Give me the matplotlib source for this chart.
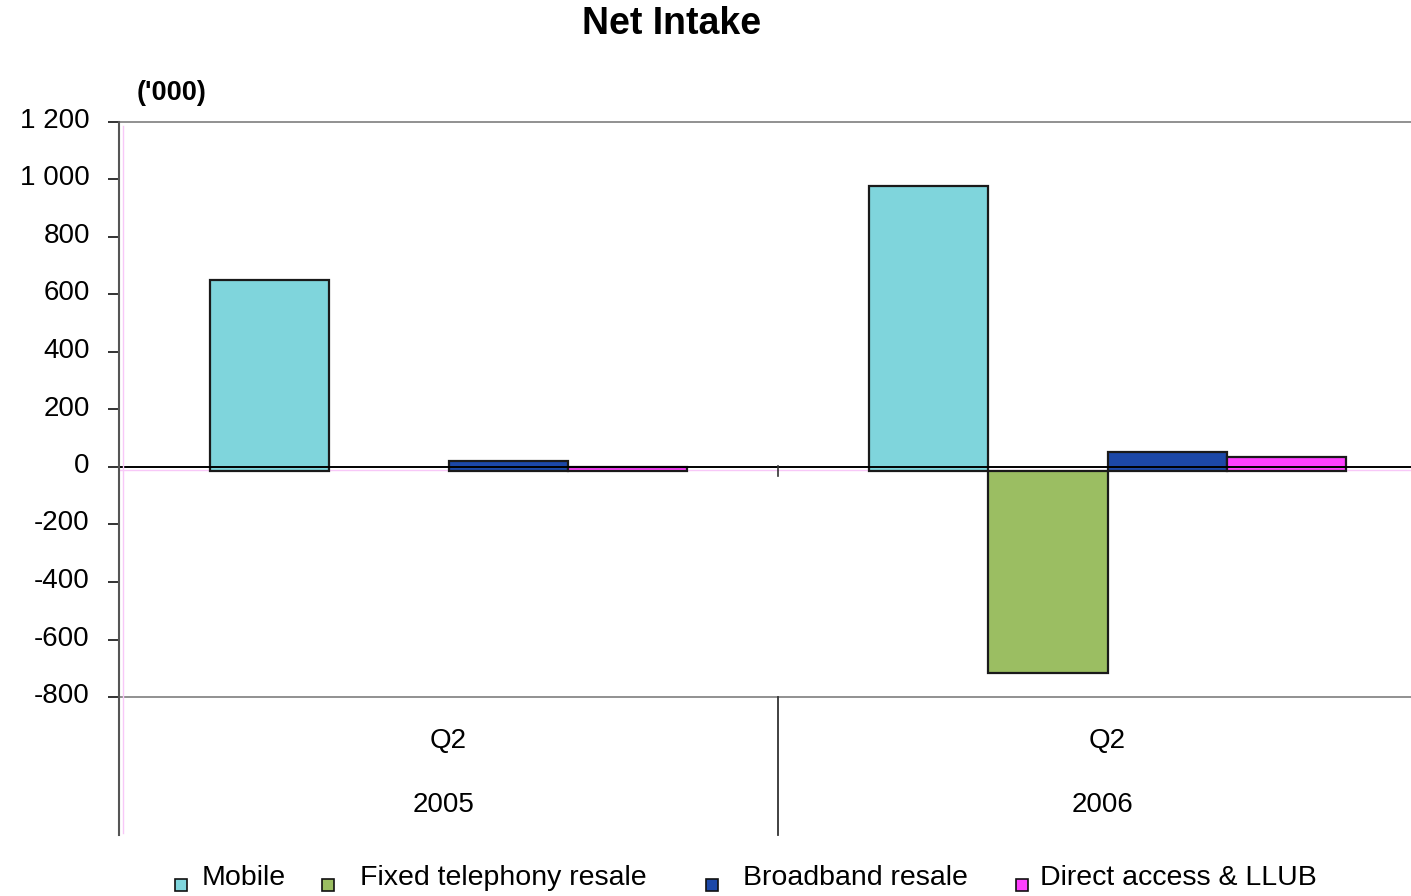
import matplotlib
matplotlib.use("Agg")
import matplotlib.pyplot as plt
from matplotlib.lines import Line2D
from matplotlib.patches import Rectangle
from matplotlib.ticker import FixedLocator, FuncFormatter
import matplotlib.transforms as mtransforms
import numpy as np

plt.rcParams["font.family"] = ["Liberation Sans", "DejaVu Sans"]

# data ('000)
years = ["2005", "2006"]
quarters = ["Q2", "Q2"]
series = ["Mobile", "Fixed telephony resale", "Broadband resale", "Direct access & LLUB"]
mobile = [650, 977]
fixed_resale = [np.nan, -716]
broadband = [21, 52]
direct_llub = [0, 36]
colors = ["#7fd5dc", "#9bbe62", "#1c48a8", "#ff40ff"]
bar_base = -15  # bars hang a little under the zero line in the original

W, H = 1411, 896
fig = plt.figure(figsize=(W / 100, H / 100), dpi=100)


def fx(x):
    return x / W


def fy(y):
    return 1 - y / H


ax = fig.add_axes([fx(119), fy(697), fx(1437 - 119), fy(122) - fy(697)])
ax.set_xlim(-0.5, 1.5)
ax.set_ylim(-800, 1200)

values = [mobile, fixed_resale, broadband, direct_llub]
width = 0.181
x = np.arange(len(years))
for i, (name, vals, col) in enumerate(zip(series, values, colors)):
    vals = np.array(vals, dtype=float)
    ax.bar(x + (i - 1.5) * width, vals - bar_base, width, bottom=bar_base,
           color=col, edgecolor="#1a1a1a", linewidth=1.6, zorder=3)

# axes frame
for s in ["left", "right", "top"]:
    ax.spines[s].set_visible(False)
ax.spines["bottom"].set_color("#888888")
ax.spines["bottom"].set_linewidth(1.3)
ax.axhline(1200, color="#888888", lw=1.3, clip_on=False)
ax.axhline(0, color="#000000", lw=1.4, zorder=4)
ax.axhline(-12, color="#f8c8f8", lw=1, zorder=1)

ax.yaxis.set_major_locator(FixedLocator(np.arange(-800, 1201, 200)))
ax.yaxis.set_major_formatter(FuncFormatter(lambda v, p: f"{int(v):,}".replace(",", " ")))
ax.tick_params(axis="y", length=8, width=1.2, color="#111111", labelsize=20, pad=13)
ax.set_xticks([])
shift = mtransforms.ScaledTranslation(0, 4 / 100, fig.dpi_scale_trans)
for lab in ax.get_yticklabels():
    lab.set_transform(lab.get_transform() + shift)

# left axis line and category separator
fig.add_artist(Line2D([fx(119), fx(119)], [fy(122), fy(835)], color="#555555", lw=1.5))
fig.add_artist(Line2D([fx(123), fx(123)], [fy(126), fy(833)], color="#f8c8f8", lw=1))
fig.add_artist(Line2D([fx(778), fx(778)], [fy(697), fy(835)], color="#333333", lw=1.3))
fig.add_artist(Line2D([fx(778), fx(778)], [fy(466), fy(476)], color="#333333", lw=1.2))

# category labels
trans = mtransforms.blended_transform_factory(ax.transData, fig.transFigure)
for xi, q, yr in zip(x, quarters, years):
    ax.text(xi, fy(741), q, transform=trans, ha="center", va="center", fontsize=20)
    ax.text(xi - 0.008, fy(805), yr, transform=trans, ha="center", va="center", fontsize=20)

fig.text(fx(672), fy(24), "Net Intake", ha="center", va="center", fontsize=27, fontweight="bold")
fig.text(fx(172), fy(93), "('000)", ha="center", va="center", fontsize=19.5, fontweight="bold")

# legend entries placed like the original
sq_x = [175, 322, 706, 1016]
txt_x = [202, 360, 743, 1040]
for name, col, sx, tx in zip(series, colors, sq_x, txt_x):
    fig.add_artist(Rectangle((fx(sx), fy(891)), fx(12), fy(879) - fy(891),
                             facecolor=col, edgecolor="#111111", lw=1.2))
    fig.text(fx(tx), fy(878), name, ha="left", va="center", fontsize=20.5)

fig.savefig("out.png", dpi=100)
